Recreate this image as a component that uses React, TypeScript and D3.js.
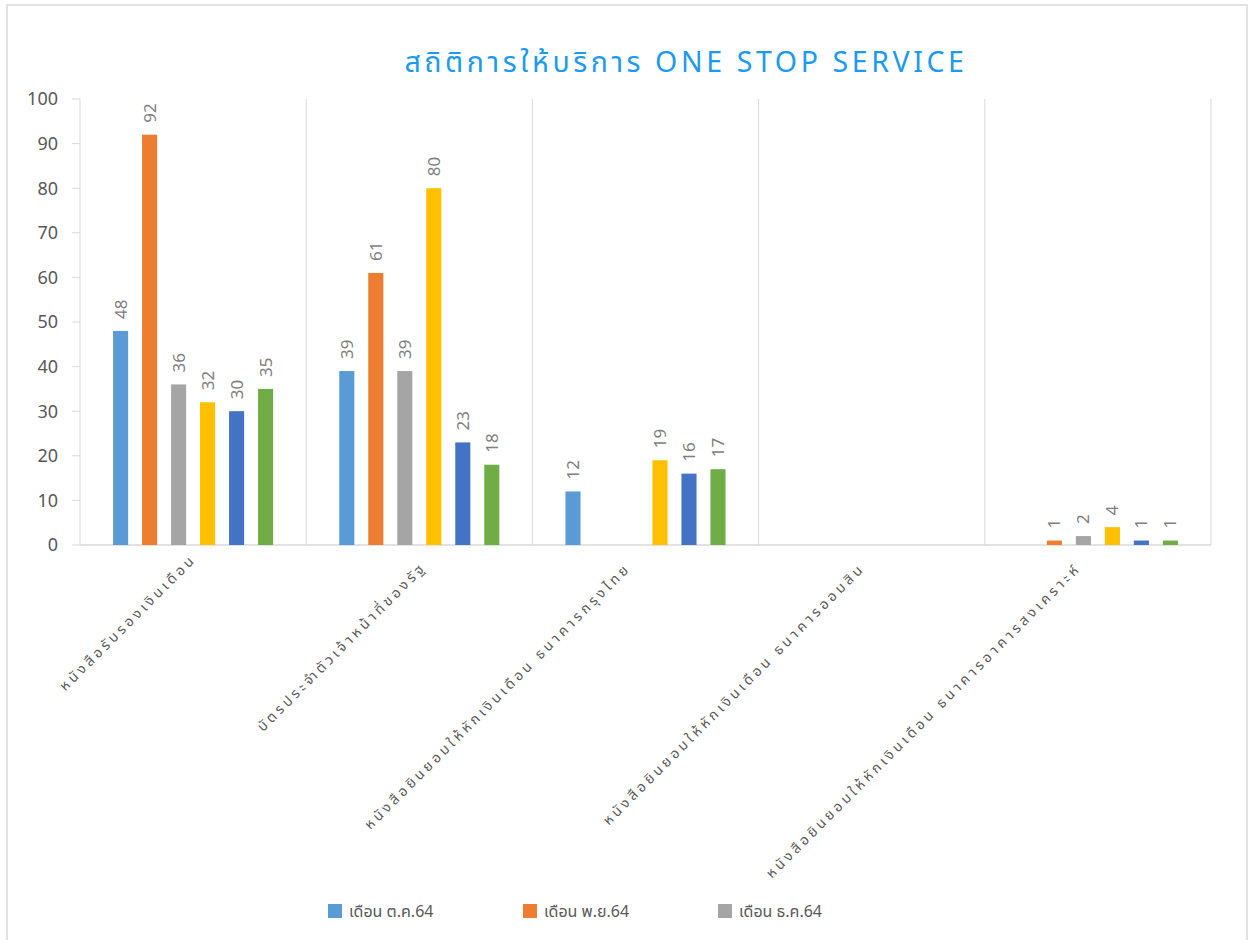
import React from "react";
import * as d3 from "d3";

const categories = [
  "หนังสือรับรองเงินเดือน",
  "บัตรประจำตัวเจ้าหน้าที่ของรัฐ",
  "หนังสือยินยอมให้หักเงินเดือน ธนาคารกรุงไทย",
  "หนังสือยินยอมให้หักเงินเดือน ธนาคารออมสิน",
  "หนังสือยินยอมให้หักเงินเดือน ธนาคารอาคารสงเคราะห์",
];

const seriesNames = [
  "เดือน ต.ค.64",
  "เดือน พ.ย.64",
  "เดือน ธ.ค.64",
  "เดือน ม.ค.65",
  "เดือน ก.พ.65",
  "เดือน มี.ค.65",
];

const octValues = [48, 39, 12, null, null];
const novValues = [92, 61, null, null, 1];
const decValues = [36, 39, null, null, 2];
const janValues = [32, 80, 19, null, 4];
const febValues = [30, 23, 16, null, 1];
const marValues = [35, 18, 17, null, 1];

const seriesValues = [octValues, novValues, decValues, janValues, febValues, marValues];
const seriesColors = ["#5b9bd5", "#ed7d31", "#a5a5a5", "#ffc000", "#4472c4", "#70ad47"];
const yTicks = [0, 10, 20, 30, 40, 50, 60, 70, 80, 90, 100];
const legendCount = 3;

// layout-only nudges for the rotated category labels
const labelNudgeX = [-2, 2, -20, -12, -22];
const labelNudgeY = [-3, 5, 6, 6, 6];

const W = 1251;
const H = 940;
const plot = { left: 80, right: 1211, top: 99, bottom: 545 };
const FONT = "'Noto Sans', 'Noto Sans Thai', Tahoma, 'DejaVu Sans', sans-serif";

export default function App() {
  const x0 = d3.scaleBand<number>()
    .domain(categories.map((_, i) => i))
    .range([plot.left, plot.right])
    .padding(0);
  const x1 = d3.scaleBand<number>()
    .domain(seriesNames.map((_, i) => i))
    .range([0, x0.bandwidth()])
    .paddingInner(0.48)
    .paddingOuter(1.14);
  const y = d3.scaleLinear().domain([0, 100]).range([plot.bottom, plot.top]);

  const boundaries = categories.map((_, i) => x0(i)!).concat([plot.right]);

  return (
    <svg width={W} height={H} style={{ position: "absolute", left: 0, top: 0, background: "#fff" }}>
      <rect x={7} y={5} width={1240} height={H + 10} fill="#fff" stroke="#d9d9d9" strokeWidth={1.5} />
      <text
        x={686}
        y={72}
        textAnchor="middle"
        fill="#1a9af0"
        fontSize={28.5}
        letterSpacing={3.6}
        fontFamily={FONT}
      >
        สถิติการให้บริการ ONE STOP SERVICE
      </text>

      {boundaries.map((bx, i) => (
        <line key={"g" + i} x1={bx} x2={bx} y1={plot.top} y2={plot.bottom} stroke="#d9d9d9" strokeWidth={1} />
      ))}
      <line x1={plot.left} x2={plot.right} y1={plot.bottom} y2={plot.bottom} stroke="#d9d9d9" strokeWidth={1.5} />

      {yTicks.map((t) => (
        <g key={"t" + t}>
          <line x1={plot.left - 8} x2={plot.left} y1={y(t)} y2={y(t)} stroke="#d9d9d9" strokeWidth={1} />
          <text
            x={58}
            y={y(t)}
            dy="0.35em"
            textAnchor="end"
            fill="#595959"
            fontSize={18}
            fontFamily={FONT}
          >
            {t}
          </text>
        </g>
      ))}

      {seriesValues.map((vals, si) =>
        vals.map((v, ci) => {
          if (v === null) return null;
          const bx = x0(ci)! + x1(si)!;
          const bw = x1.bandwidth();
          const top = y(v);
          return (
            <g key={`b${si}-${ci}`}>
              <rect x={bx} y={top} width={bw} height={plot.bottom - top} fill={seriesColors[si]} />
              <text
                transform={`translate(${bx + bw / 2},${top - 12}) rotate(-90)`}
                dy="0.35em"
                textAnchor="start"
                fill="#7f7f7f"
                fontSize={17}
                fontFamily={FONT}
              >
                {v}
              </text>
            </g>
          );
        })
      )}

      {categories.map((c, i) => {
        const cx = x0(i)! + x0.bandwidth() / 2;
        return (
          <text
            key={"c" + i}
            transform={`translate(${cx + 6 + labelNudgeX[i]},${563 + labelNudgeY[i]}) rotate(-45)`}
            textAnchor="end"
            fill="#595959"
            fontSize={14}
            letterSpacing={3.5}
            fontFamily={FONT}
          >
            {c}
          </text>
        );
      })}

      {seriesNames.slice(0, legendCount).map((n, i) => (
        <g key={"l" + i} transform={`translate(${328 + i * 195},904)`}>
          <rect x={0} y={0} width={14} height={14} fill={seriesColors[i]} />
          <text x={21} y={7} dy="0.35em" fill="#595959" fontSize={16} fontFamily={FONT}>
            {n}
          </text>
        </g>
      ))}
    </svg>
  );
}
